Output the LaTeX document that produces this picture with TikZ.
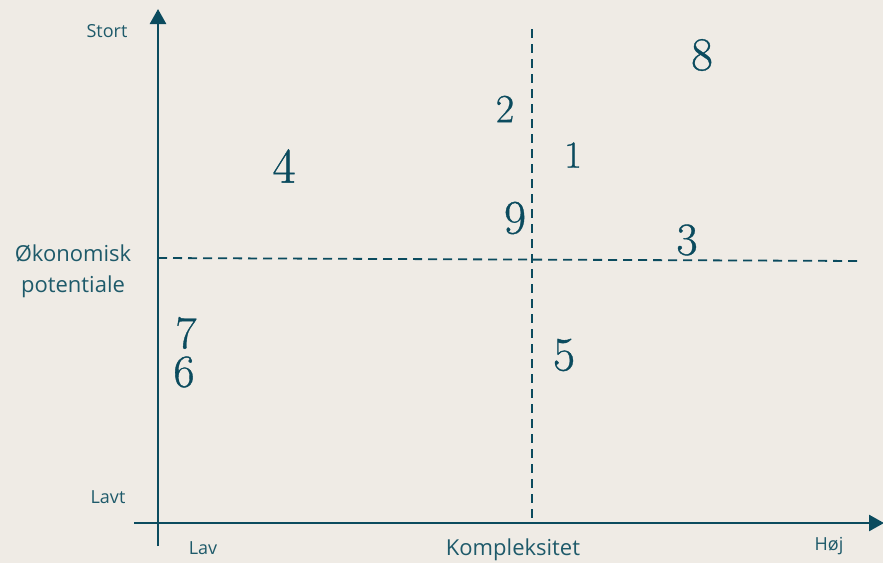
\documentclass[tikz,border=0pt]{standalone}
\usepackage{fontspec}
\usetikzlibrary{arrows.meta}
\newfontfamily\lblfont{Open Sans}
\newfontfamily\numfont[FakeBold=0.8]{Latin Modern Roman}
\definecolor{paper}{RGB}{239,235,229}
\definecolor{ink}{RGB}{11,75,94}
\definecolor{lblink}{RGB}{30,90,106}
\begin{document}
\begin{tikzpicture}[
        x=1pt, y=-1pt,
        axis/.style={
            draw=ink,
            line width=2.6pt,
            -{Triangle[length=15pt,width=16pt]}
        },
        divider/.style={
            draw=ink,
            line width=1.8pt,
            dash pattern=on 9pt off 6pt
        },
        num/.style={
            text=ink,
            inner sep=0pt
        },
        lbl/.style={
            text=lblink,
            inner sep=0pt,
            align=center,
            font=\lblfont\fontsize{18}{20}\selectfont
        },
        biglbl/.style={
            lbl,
            font=\lblfont\fontsize{22}{31}\selectfont
        }
    ]
        \fill[paper] (0,0) rectangle (883,563);
        \useasboundingbox (0,0) rectangle (883,563);

        % axes
        \coordinate (ybottom) at (158,546);
        \coordinate (ytop) at (158,9);
        \coordinate (xleft) at (134,523);
        \coordinate (xright) at (884,523);
        \draw[axis] (ybottom) -- (ytop);
        \draw[axis] (xleft) -- (xright);

        % quadrant dividers
        \coordinate (hleft) at (158,258);
        \coordinate (hright) at (862,261);
        \coordinate (vtop) at (532,29);
        \coordinate (vbottom) at (532,523);
        \draw[divider] (hleft) -- (hright);
        \draw[divider] (vtop) -- (vbottom);

        % axis labels
        \node[lbl] (stort) at (107,31) {Stort};
        \node[lbl] (lavt) at (108,497) {Lavt};
        \node[lbl] (lav) at (203,548) {Lav};
        \node[lbl] (hoej) at (829,546) {Høj};
        \node[biglbl] (yname) at (73,271) {Økonomisk\\potentiale};
        \node[biglbl] (xname) at (513,550) {Kompleksitet};

        % items
        \node[num, font=\numfont\fontsize{47}{47}\selectfont] (n8) at (702,55) {8};
        \node[num, font=\numfont\fontsize{40}{40}\selectfont] (n2) at (505,109) {2};
        \node[num, font=\numfont\fontsize{38}{38}\selectfont] (n1) at (573,155) {1};
        \node[num, font=\numfont\fontsize{50}{50}\selectfont] (n4) at (284,166) {4};
        \node[num, font=\numfont\fontsize{48}{48}\selectfont] (n9) at (515,218) {9};
        \node[num, font=\numfont\fontsize{46}{46}\selectfont] (n3) at (687,240) {3};
        \node[num, font=\numfont\fontsize{46}{46}\selectfont] (n7) at (186,333) {7};
        \node[num, font=\numfont\fontsize{46}{46}\selectfont] (n6) at (184,372) {6};
        \node[num, font=\numfont\fontsize{48}{48}\selectfont] (n5) at (564,355) {5};
    \end{tikzpicture}
\end{document}
